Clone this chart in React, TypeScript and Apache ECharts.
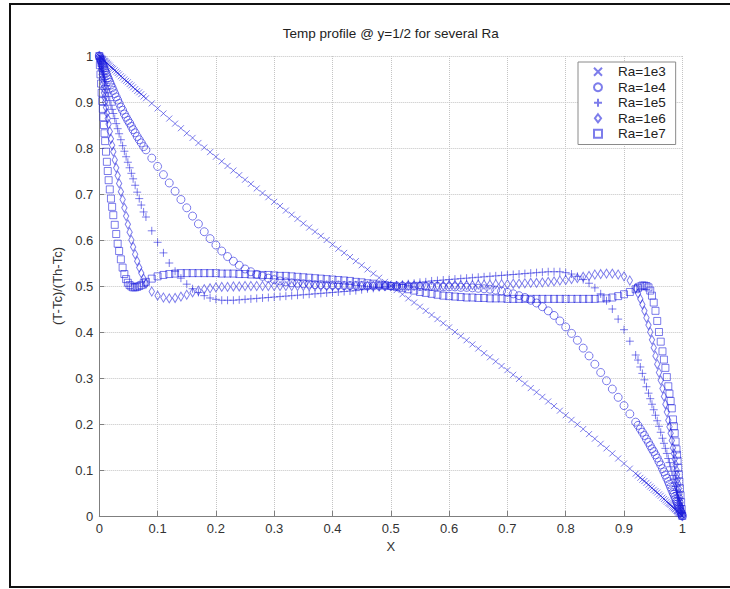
import React, { useEffect, useRef } from "react";
import * as echarts from "echarts";

// Shared x grid (clustered near the walls)
const X = [
  0, 0.001, 0.002, 0.003, 0.004, 0.005, 0.006, 0.007, 0.008, 0.009,
  0.01, 0.0115, 0.013, 0.0145, 0.016, 0.018, 0.02, 0.022, 0.024, 0.0265,
  0.029, 0.0315, 0.034, 0.037, 0.04, 0.043, 0.046, 0.049, 0.052, 0.055,
  0.058, 0.0615, 0.065, 0.0685, 0.072, 0.076,
  0.08, 0.09, 0.1, 0.11, 0.12, 0.13, 0.14, 0.15, 0.16, 0.17,
  0.18, 0.19, 0.2, 0.21, 0.22, 0.23, 0.24, 0.25, 0.26, 0.27,
  0.28, 0.29, 0.3, 0.31, 0.32, 0.33, 0.34, 0.35, 0.36, 0.37,
  0.38, 0.39, 0.4, 0.41, 0.42, 0.43, 0.44, 0.45, 0.46, 0.47, 0.48, 0.49,
  0.5,
  0.51, 0.52, 0.53, 0.54, 0.55, 0.56, 0.57, 0.58, 0.59, 0.6, 0.61, 0.62,
  0.63, 0.64, 0.65, 0.66, 0.67, 0.68, 0.69, 0.7, 0.71, 0.72,
  0.73, 0.74, 0.75, 0.76, 0.77, 0.78, 0.79, 0.8, 0.81, 0.82,
  0.83, 0.84, 0.85, 0.86, 0.87, 0.88, 0.89, 0.9, 0.91, 0.92,
  0.924, 0.928, 0.9315, 0.935, 0.9385, 0.942, 0.945, 0.948, 0.951, 0.954,
  0.957, 0.96, 0.963, 0.966, 0.9685, 0.971, 0.9735, 0.976, 0.978, 0.98,
  0.982, 0.984, 0.9855, 0.987, 0.9885, 0.99, 0.991, 0.992, 0.993, 0.994,
  0.995, 0.996, 0.997, 0.998, 0.999, 1,
];

const RA_1E3 = [
  1, 0.999, 0.998, 0.996, 0.995, 0.994, 0.993, 0.992, 0.99, 0.989,
  0.988, 0.986, 0.985, 0.983, 0.981, 0.979, 0.976, 0.974, 0.972, 0.969,
  0.966, 0.963, 0.96, 0.956, 0.953, 0.949, 0.946, 0.943, 0.939, 0.936,
  0.932, 0.928, 0.924, 0.921, 0.917, 0.912,
  0.908, 0.897, 0.886, 0.875, 0.864, 0.853, 0.843, 0.832, 0.822, 0.811,
  0.801, 0.791, 0.781, 0.771, 0.761, 0.751, 0.741, 0.731, 0.722, 0.712,
  0.702, 0.693, 0.683, 0.674, 0.664, 0.655, 0.646, 0.636, 0.627, 0.618,
  0.609, 0.6, 0.59, 0.581, 0.572, 0.563, 0.554, 0.545, 0.536, 0.527, 0.518, 0.509,
  0.5,
  0.491, 0.482, 0.473, 0.464, 0.455, 0.446, 0.437, 0.428, 0.419, 0.41, 0.4, 0.391,
  0.382, 0.373, 0.364, 0.354, 0.345, 0.336, 0.326, 0.317, 0.307, 0.298,
  0.288, 0.278, 0.269, 0.259, 0.249, 0.239, 0.229, 0.219, 0.209, 0.199,
  0.189, 0.178, 0.168, 0.157, 0.147, 0.136, 0.125, 0.114, 0.103, 0.092,
  0.088, 0.083, 0.079, 0.076, 0.072, 0.068, 0.064, 0.061, 0.057, 0.054,
  0.051, 0.047, 0.044, 0.04, 0.037, 0.034, 0.031, 0.028, 0.026, 0.024,
  0.021, 0.019, 0.017, 0.015, 0.014, 0.012, 0.011, 0.01, 0.008, 0.007,
  0.006, 0.005, 0.004, 0.002, 0.001, 0,
];

const RA_1E4 = [
  1, 0.997, 0.993, 0.99, 0.987, 0.983, 0.98, 0.977, 0.974, 0.97,
  0.967, 0.962, 0.958, 0.953, 0.949, 0.943, 0.937, 0.931, 0.925, 0.918,
  0.911, 0.904, 0.897, 0.889, 0.882, 0.874, 0.867, 0.86, 0.854, 0.847,
  0.84, 0.833, 0.825, 0.818, 0.811, 0.803,
  0.796, 0.778, 0.76, 0.742, 0.724, 0.706, 0.688, 0.67, 0.652, 0.635,
  0.618, 0.603, 0.589, 0.576, 0.564, 0.554, 0.545, 0.537, 0.531, 0.525,
  0.521, 0.517, 0.514, 0.511, 0.509, 0.507, 0.506, 0.505, 0.504, 0.503,
  0.503, 0.502, 0.502, 0.502, 0.501, 0.501, 0.501, 0.501, 0.5, 0.5, 0.5, 0.5,
  0.5,
  0.5, 0.5, 0.5, 0.5, 0.499, 0.499, 0.499, 0.499, 0.498, 0.498, 0.498, 0.497,
  0.497, 0.496, 0.495, 0.494, 0.493, 0.491, 0.489, 0.486, 0.483, 0.479,
  0.475, 0.469, 0.463, 0.455, 0.446, 0.436, 0.424, 0.411, 0.397, 0.382,
  0.365, 0.348, 0.33, 0.312, 0.294, 0.276, 0.258, 0.24, 0.222, 0.204,
  0.197, 0.189, 0.182, 0.175, 0.167, 0.16, 0.153, 0.146, 0.14, 0.133,
  0.126, 0.118, 0.111, 0.103, 0.096, 0.089, 0.082, 0.075, 0.069, 0.063,
  0.057, 0.051, 0.047, 0.042, 0.038, 0.033, 0.03, 0.026, 0.023, 0.02,
  0.017, 0.013, 0.01, 0.007, 0.003, 0,
];

const RA_1E5 = [
  1, 0.994, 0.989, 0.983, 0.977, 0.972, 0.966, 0.96, 0.955, 0.949,
  0.944, 0.936, 0.928, 0.92, 0.912, 0.903, 0.893, 0.884, 0.875, 0.864,
  0.853, 0.842, 0.831, 0.818, 0.805, 0.793, 0.781, 0.769, 0.757, 0.745,
  0.733, 0.719, 0.704, 0.69, 0.676, 0.661,
  0.65, 0.62, 0.595, 0.572, 0.55, 0.532, 0.517, 0.504, 0.494, 0.486,
  0.479, 0.474, 0.471, 0.469, 0.469, 0.469, 0.47, 0.471, 0.472, 0.473,
  0.474, 0.475, 0.476, 0.477, 0.478, 0.479, 0.48, 0.481, 0.482, 0.483,
  0.484, 0.485, 0.486, 0.487, 0.488, 0.489, 0.49, 0.492, 0.494, 0.495, 0.497, 0.498,
  0.5,
  0.502, 0.503, 0.505, 0.506, 0.508, 0.509, 0.511, 0.512, 0.513, 0.514, 0.515, 0.516,
  0.517, 0.518, 0.519, 0.52, 0.521, 0.522, 0.523, 0.524, 0.525, 0.526,
  0.527, 0.528, 0.529, 0.53, 0.531, 0.531, 0.531, 0.529, 0.526, 0.521,
  0.514, 0.506, 0.496, 0.483, 0.468, 0.45, 0.428, 0.405, 0.38, 0.35,
  0.339, 0.324, 0.31, 0.296, 0.281, 0.267, 0.255, 0.243, 0.231, 0.219,
  0.207, 0.195, 0.182, 0.169, 0.158, 0.147, 0.136, 0.125, 0.116, 0.107,
  0.097, 0.088, 0.08, 0.072, 0.064, 0.056, 0.051, 0.045, 0.04, 0.034,
  0.028, 0.023, 0.017, 0.011, 0.006, 0,
];

const RA_1E6 = [
  1, 0.99, 0.98, 0.97, 0.96, 0.95, 0.94, 0.93, 0.92, 0.91,
  0.9, 0.888, 0.876, 0.864, 0.852, 0.836, 0.82, 0.806, 0.792, 0.774,
  0.757, 0.74, 0.723, 0.705, 0.688, 0.67, 0.652, 0.634, 0.617, 0.6,
  0.585, 0.569, 0.554, 0.54, 0.528, 0.516,
  0.505, 0.488, 0.479, 0.475, 0.473, 0.474, 0.477, 0.481, 0.486, 0.49,
  0.493, 0.495, 0.497, 0.498, 0.498, 0.499, 0.499, 0.5, 0.5, 0.5,
  0.5, 0.5, 0.5, 0.5, 0.5, 0.5, 0.5, 0.5, 0.5, 0.5,
  0.5, 0.5, 0.5, 0.5, 0.5, 0.5, 0.5, 0.5, 0.5, 0.5, 0.5, 0.5,
  0.5,
  0.5, 0.501, 0.501, 0.501, 0.501, 0.501, 0.501, 0.501, 0.501, 0.502, 0.502, 0.502,
  0.502, 0.502, 0.503, 0.503, 0.503, 0.504, 0.504, 0.504, 0.505, 0.505,
  0.506, 0.507, 0.507, 0.508, 0.509, 0.51, 0.512, 0.513, 0.515, 0.517,
  0.52, 0.522, 0.525, 0.526, 0.527, 0.527, 0.525, 0.521, 0.512, 0.495,
  0.484, 0.472, 0.46, 0.446, 0.431, 0.415, 0.4, 0.383, 0.366, 0.348,
  0.33, 0.312, 0.295, 0.277, 0.26, 0.243, 0.226, 0.208, 0.194, 0.18,
  0.164, 0.148, 0.136, 0.124, 0.112, 0.1, 0.09, 0.08, 0.07, 0.06,
  0.05, 0.04, 0.03, 0.02, 0.01, 0,
];

const RA_1E7 = [
  1, 0.98, 0.96, 0.94, 0.92, 0.902, 0.885, 0.867, 0.85, 0.832,
  0.815, 0.792, 0.77, 0.75, 0.73, 0.71, 0.69, 0.672, 0.654, 0.633,
  0.613, 0.592, 0.576, 0.558, 0.54, 0.526, 0.515, 0.507, 0.502, 0.499,
  0.497, 0.497, 0.498, 0.5, 0.502, 0.506,
  0.509, 0.516, 0.521, 0.524, 0.526, 0.527, 0.528, 0.528, 0.528, 0.528,
  0.528, 0.528, 0.528, 0.527, 0.527, 0.527, 0.526, 0.526, 0.525, 0.525,
  0.524, 0.524, 0.523, 0.522, 0.522, 0.521, 0.52, 0.519, 0.518, 0.517,
  0.516, 0.515, 0.514, 0.513, 0.512, 0.511, 0.509, 0.508, 0.506, 0.505, 0.503, 0.502,
  0.5,
  0.498, 0.496, 0.493, 0.49, 0.487, 0.485, 0.483, 0.481, 0.479, 0.478, 0.477, 0.476,
  0.475, 0.475, 0.474, 0.474, 0.473, 0.473, 0.473, 0.472, 0.472, 0.472,
  0.472, 0.472, 0.472, 0.472, 0.472, 0.472, 0.472, 0.472, 0.472, 0.472,
  0.472, 0.472, 0.472, 0.473, 0.473, 0.475, 0.478, 0.482, 0.487, 0.493,
  0.496, 0.499, 0.501, 0.501, 0.5, 0.497, 0.49, 0.479, 0.464, 0.446,
  0.424, 0.4, 0.379, 0.358, 0.34, 0.322, 0.302, 0.282, 0.266, 0.25,
  0.234, 0.21, 0.195, 0.18, 0.162, 0.145, 0.133, 0.12, 0.105, 0.09,
  0.075, 0.06, 0.045, 0.03, 0.015, 0,
];

const SERIES_NAMES = ["Ra=1e3", "Ra=1e4", "Ra=1e5", "Ra=1e6", "Ra=1e7"];
const SERIES_VALUES = [RA_1E3, RA_1E4, RA_1E5, RA_1E6, RA_1E7];
const TICK_LABELS = ["0", "0.1", "0.2", "0.3", "0.4", "0.5", "0.6", "0.7", "0.8", "0.9", "1"];
const TITLE = "Temp profile @ y=1/2 for several Ra";
const X_NAME = "X";
const Y_NAME = "(T-Tc)/(Th-Tc)";

const FONT = "'Liberation Sans', Arial, Helvetica, sans-serif";
const MARK = "rgba(30,30,220,0.72)";

const SYMBOLS: { symbol: string; size: number | number[] }[] = [
  { symbol: "path://M0,0L10,10M10,0L0,10", size: 6 },
  { symbol: "circle", size: 8 },
  { symbol: "path://M5,0L5,10M0,5L10,5", size: 8 },
  { symbol: "path://M5,0L10,6.5L5,13L0,6.5Z", size: [7, 9] },
  { symbol: "path://M0,0L10,0L10,10L0,10Z", size: 7 },
];

export default function App() {
  const ref = useRef<HTMLDivElement>(null);

  useEffect(() => {
    if (!ref.current) return;
    const chart = echarts.init(ref.current, null, { renderer: "svg" });

    const tickFmt = (v: number) => TICK_LABELS[Math.round(v * 10)] ?? "";

    const axisCommon = {
      type: "value" as const,
      min: 0,
      max: 1,
      interval: 0.1,
      axisLine: { show: true, lineStyle: { color: "#7f7f7f", width: 1 } },
      axisTick: { show: true, inside: true, length: 5, lineStyle: { color: "#7f7f7f" } },
      splitLine: { show: true, lineStyle: { type: "dotted" as const, color: "#c4c4c4", width: 1 } },
      nameLocation: "middle" as const,
      nameTextStyle: { fontFamily: FONT, fontSize: 13, color: "#333" },
    };

    const series = SERIES_VALUES.map((ys, k) => ({
      type: "scatter" as const,
      name: SERIES_NAMES[k],
      data: X.map((x, i) => [x, ys[i]]),
      symbol: SYMBOLS[k].symbol,
      symbolSize: SYMBOLS[k].size,
      symbolKeepAspect: true,
      itemStyle: { color: "transparent", borderColor: MARK, borderWidth: 1 },
      emphasis: { disabled: true },
      silent: true,
    }));

    chart.setOption({
      animation: false,
      backgroundColor: "#ffffff",
      textStyle: { fontFamily: FONT },
      grid: { left: 99.3, right: 47.7, top: 56, bottom: 73, containLabel: false },
      xAxis: {
        ...axisCommon,
        name: X_NAME,
        nameGap: 23,
        axisLabel: { margin: 6, fontSize: 13, color: "#333", fontFamily: FONT, formatter: tickFmt },
      },
      yAxis: {
        ...axisCommon,
        name: Y_NAME,
        nameGap: 27,
        axisLabel: { margin: 6, fontSize: 13, color: "#333", fontFamily: FONT, formatter: tickFmt },
      },
      legend: {
        orient: "vertical",
        left: 578,
        top: 62,
        itemWidth: 30,
        itemHeight: 8,
        itemGap: 0,
        padding: [2, 10, 3, 15],
        backgroundColor: "#ffffff",
        borderColor: "#8a8a8a",
        borderWidth: 1,
        borderRadius: 0,
        symbolKeepAspect: true,
        textStyle: { fontFamily: FONT, fontSize: 13.5, lineHeight: 15.5, color: "#222" },
        data: SERIES_NAMES,
      },
      graphic: [
        {
          type: "text",
          x: 390.8,
          y: 33,
          style: {
            text: TITLE,
            font: `13.5px ${FONT}`,
            fill: "#222",
            align: "center",
            verticalAlign: "middle",
          },
        },
        { type: "line", shape: { x1: 9, y1: 4, x2: 730, y2: 4 }, style: { stroke: "#111", lineWidth: 2 } },
        { type: "line", shape: { x1: 10, y1: 3, x2: 10, y2: 588 }, style: { stroke: "#111", lineWidth: 2 } },
        { type: "line", shape: { x1: 9, y1: 587, x2: 730, y2: 587 }, style: { stroke: "#111", lineWidth: 2 } },
      ],
      series,
    });

    return () => chart.dispose();
  }, []);

  return (
    <div
      ref={ref}
      style={{ position: "absolute", left: 0, top: 0, width: 730, height: 589, background: "#fff" }}
    />
  );
}
